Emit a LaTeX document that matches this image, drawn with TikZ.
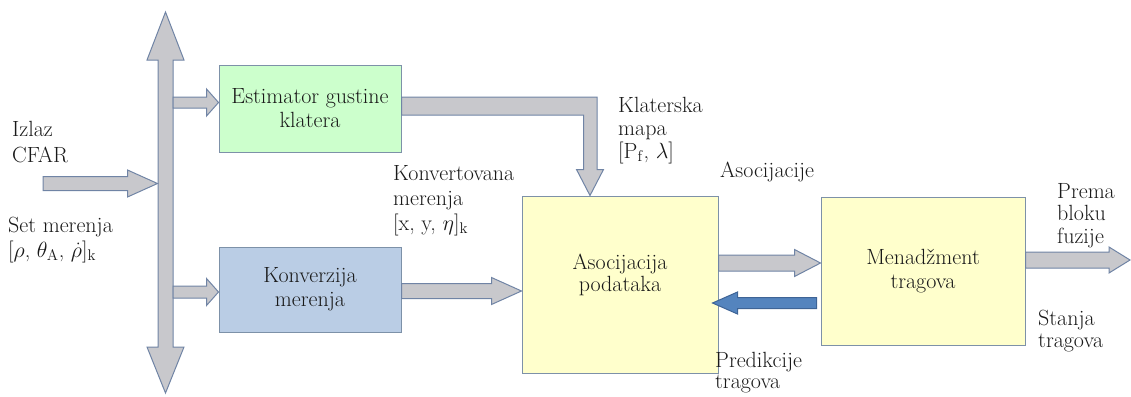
\RequirePackage{fix-cm}
\documentclass[tikz,border=0pt]{standalone}
\usetikzlibrary{calc}
\definecolor{agray}{RGB}{200,200,204}
\definecolor{aline}{RGB}{112,132,165}
\definecolor{ablue}{RGB}{84,132,190}
\definecolor{abluel}{RGB}{62,100,150}
\definecolor{boxl}{RGB}{125,145,168}
\definecolor{byellow}{RGB}{255,255,204}
\definecolor{bgreen}{RGB}{204,255,204}
\definecolor{bblue}{RGB}{186,205,229}
\definecolor{txt}{RGB}{25,25,25}
\newcommand\fs{\fontsize{22}{24}\selectfont}
\newcommand\rblock[6]{\path[#1] let \p1=(#2),\p2=(#3) in (\x1,\y2+#4) -- (\x2-#6,\y2+#4) -- (\x2-#6,\y2+#5) -- (\x2,\y2) -- (\x2-#6,\y2-#5) -- (\x2-#6,\y2-#4) -- (\x1,\y2-#4) -- cycle;}
\newcommand\lblock[6]{\path[#1] let \p1=(#2),\p2=(#3) in (\x1,\y2+#4) -- (\x2+#6,\y2+#4) -- (\x2+#6,\y2+#5) -- (\x2,\y2) -- (\x2+#6,\y2-#5) -- (\x2+#6,\y2-#4) -- (\x1,\y2-#4) -- cycle;}
\tikzset{
  blk/.style={fill=agray, draw=aline, line width=1pt},
  bblk/.style={fill=ablue, draw=abluel, line width=1pt},
  box/.style={draw=boxl, line width=1pt, inner sep=0pt, align=center, font=\fs, text=txt},
  lbl/.style={inner sep=0pt, align=left, anchor=base west, font=\fs, text=txt},
}
\begin{document}
\begin{tikzpicture}[x=1pt, y=-1pt]
\useasboundingbox (0,0) rectangle (1131,396);
% boxes
\node[box, fill=bgreen, minimum width=182pt, minimum height=87pt] (est) at (310,108.5) {Estimator gustine\\klatera};
\node[box, fill=bblue, minimum width=182pt, minimum height=85pt] (konv) at (310,289.5) {Konverzija\\merenja};
\node[box, fill=byellow, minimum width=196pt, minimum height=177pt] (asoc) at (620,284.5) {};
\node[box, fill=byellow, minimum width=204pt, minimum height=148pt] (men) at (923,271) {Menadžment\\tragova};
\node[box, draw=none, fill=none, font={\fontsize{22}{22}\selectfont}] (asoct) at (620,275) {Asocijacija\\podataka};
% bus
\coordinate (bustop) at (165.5,12);
\coordinate (busbot) at (165.5,393);
\path[blk] let \p1=(bustop),\p2=(busbot) in (\x1,\y1) -- (\x1+18.5pt,\y1-48pt) -- (\x1+7.5pt,\y1-48pt) -- (\x1+7.5pt,\y2+46pt) -- (\x1+18.5pt,\y2+46pt) -- (\x2,\y2) -- (\x1-18.5pt,\y2+46pt) -- (\x1-7.5pt,\y2+46pt) -- (\x1-7.5pt,\y1-48pt) -- (\x1-18.5pt,\y1-48pt) -- cycle;
% input
\coordinate (cfar) at (43,183.5);
\coordinate (busin) at ($(bustop |- cfar)+(-8,0)$);
\rblock{blk}{cfar}{busin}{7pt}{13.5pt}{30pt}
% bus to boxes
\coordinate (busr) at ($(bustop)+(7.5,0)$);
\rblock{blk}{busr}{$(est.west)+(0,-6)$}{5.5pt}{13.5pt}{12pt}
\rblock{blk}{busr}{$(konv.west)+(0,2.5)$}{6pt}{13.5pt}{12pt}
% estimator to asocijacija (L shape)
\coordinate (clutin) at ($(asoc.north west)+(68.5,0)$);
\path[blk] let \p1=(est.east),\p2=(clutin) in (\x1,\y1+11.5pt) -- (\x2+7pt,\y1+11.5pt) -- (\x2+7pt,\y2+26pt) -- (\x2+13.5pt,\y2+26pt) -- (\x2,\y2) -- (\x2-13.5pt,\y2+26pt) -- (\x2-6.5pt,\y2+26pt) -- (\x2-6.5pt,\y1-6.5pt) -- (\x1,\y1-6.5pt) -- cycle;
% konverzija to asocijacija
\rblock{blk}{konv.east}{$(asoc.west)+(0,6.5)$}{7.5pt}{13.5pt}{30pt}
% asocijacija to menadzment
\rblock{blk}{asoc.east}{$(men.west)+(0,-8)$}{8pt}{13.5pt}{26pt}
% menadzment to asocijacija (blue)
\lblock{bblk}{$(men.west)+(-4,32)$}{$(asoc.east)+(-6,18.5)$}{5.5pt}{11pt}{25pt}
% output
\coordinate (out) at (1130,260);
\rblock{blk}{men.east}{out}{8pt}{13pt}{21pt}
% labels (base = last line baseline)
\node[lbl, font={\fontsize{22}{26}\selectfont}] (l1) at (12,162) {Izlaz\\CFAR};
\node[lbl, font={\fontsize{22}{25}\selectfont}] (l2) at (8,257) {Set merenja\\{}[$\rho$, $\theta_{\mathrm{A}}$, $\dot\rho$]$_{\mathrm{k}}$};
\node[lbl, font={\fontsize{22}{25}\selectfont}] (l3) at (393,230) {Konvertovana\\merenja\\{}[x, y, $\eta$]$_{\mathrm{k}}$};
\node[lbl, font={\fontsize{22}{23}\selectfont}] (l4) at (618,158) {Klaterska\\mapa\\{}[P$_{\mathrm{f}}$, $\lambda$]};
\node[lbl] (l5) at (720,177) {Asocijacije};
\node[lbl, font={\fontsize{22}{22.5}\selectfont}] (l6) at (1057,243) {Prema\\bloku\\fuzije};
\node[lbl, font={\fontsize{22}{22}\selectfont}] (l7) at (1038,347) {Stanja\\tragova};
\node[lbl, font={\fontsize{22}{21}\selectfont}] (l8) at (715,388) {Predikcije\\tragova};
\end{tikzpicture}
\end{document}
